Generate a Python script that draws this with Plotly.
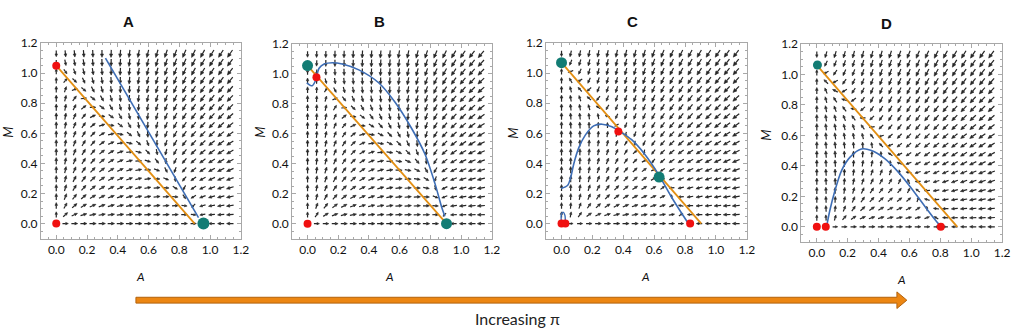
import numpy as np
import plotly.graph_objects as go

# ---------------- data ----------------
panel_titles = ["A", "B", "C", "D"]

# Panel A
a_orange_x = [0.0, 0.90]
a_orange_y = [1.05, 0.0]
a_blue_x = [0.32, 0.925]
a_blue_y = [1.10, 0.04]
a_red_x = [0.0, 0.0]
a_red_y = [0.0, 1.05]
a_teal_x = [0.957]
a_teal_y = [0.0]

# Panel B
b_orange_x = [0.0, 0.905]
b_orange_y = [1.055, 0.0]
b_blue_x = [-0.005, 0.03, 0.05, 0.075, 0.108, 0.162, 0.226, 0.334, 0.463, 0.57, 0.678, 0.765, 0.83, 0.872, 0.894]
b_blue_y = [0.94, 0.92, 0.95, 1.037, 1.065, 1.074, 1.065, 1.026, 0.94, 0.81, 0.635, 0.463, 0.267, 0.115, 0.05]
b_red_x = [0.0, 0.058]
b_red_y = [0.0, 0.977]
b_teal_x = [0.0, 0.905]
b_teal_y = [1.055, 0.0]

# Panel C
c_orange_x = [0.0, 0.905]
c_orange_y = [1.07, 0.0]
c_blue_x = [-0.003, 0.04, 0.06, 0.08, 0.112, 0.155, 0.208, 0.262, 0.326, 0.38, 0.454, 0.54, 0.626, 0.71, 0.776, 0.818]
c_blue_y = [0.233, 0.255, 0.31, 0.40, 0.505, 0.59, 0.65, 0.661, 0.644, 0.612, 0.558, 0.46, 0.331, 0.18, 0.072, 0.006]
c_hook_x = [0.0, 0.0, 0.012, 0.022, 0.024]
c_hook_y = [0.0, 0.065, 0.075, 0.055, 0.0]
c_red_x = [0.0, 0.025, 0.368, 0.833]
c_red_y = [0.0, 0.0, 0.612, 0.0]
c_teal_x = [0.0, 0.632]
c_teal_y = [1.07, 0.309]

# Panel D
d_orange_x = [0.0, 0.91]
d_orange_y = [1.06, 0.0]
d_blue_x = [0.064, 0.085, 0.118, 0.161, 0.214, 0.289, 0.354, 0.44, 0.525, 0.611, 0.697, 0.761, 0.80]
d_blue_y = [0.005, 0.11, 0.24, 0.37, 0.455, 0.51, 0.50, 0.447, 0.362, 0.255, 0.138, 0.053, 0.006]
d_red_x = [0.0, 0.058, 0.803]
d_red_y = [0.0, 0.0, 0.0]
d_teal_x = [0.004]
d_teal_y = [1.061]

tick_vals = [0.0, 0.2, 0.4, 0.6, 0.8, 1.0, 1.2]
tick_text = ["0.0", "0.2", "0.4", "0.6", "0.8", "1.0", "1.2"]
arrow_label = "Increasing π"

# ---------------- layout geometry (pixels) ----------------
W, H = 1021, 328
panel_px = [  # left, right, top, bottom of plot frames
    (41.2, 242.7, 36.0, 236.4),
    (294.5, 495.7, 36.7, 236.4),
    (550.4, 752.7, 36.0, 236.4),
    (807.7, 1010.0, 36.7, 239.9),
]
title_px = [(130, 14), (383, 14), (637, 14), (894, 16)]
mlabel_px = [(8, 127), (262, 127), (517, 128), (772, 130)]
alabel_px = [(142, 275), (393, 275), (651, 275), (909, 278)]

panels = [
    dict(ox=a_orange_x, oy=a_orange_y, bx=a_blue_x, by=a_blue_y, rx=a_red_x, ry=a_red_y,
         tx=a_teal_x, ty=a_teal_y, tsize=12),
    dict(ox=b_orange_x, oy=b_orange_y, bx=b_blue_x, by=b_blue_y, rx=b_red_x, ry=b_red_y,
         tx=b_teal_x, ty=b_teal_y, tsize=11),
    dict(ox=c_orange_x, oy=c_orange_y, bx=c_blue_x, by=c_blue_y, rx=c_red_x, ry=c_red_y,
         tx=c_teal_x, ty=c_teal_y, tsize=11),
    dict(ox=d_orange_x, oy=d_orange_y, bx=d_blue_x, by=d_blue_y, rx=d_red_x, ry=d_red_y,
         tx=d_teal_x, ty=d_teal_y, tsize=9),
]


def extrap_interp(x, xs, ys):
    xs = np.asarray(xs, float)
    ys = np.asarray(ys, float)
    out = np.interp(x, xs, ys)
    sl = (ys[1] - ys[0]) / (xs[1] - xs[0])
    sr = (ys[-1] - ys[-2]) / (xs[-1] - xs[-2])
    out = np.where(x < xs[0], ys[0] + sl * (x - xs[0]), out)
    out = np.where(x > xs[-1], ys[-1] + sr * (x - xs[-1]), out)
    return out


ORANGE = "#e38f12"
BLUE = "#3d6db5"
RED = "#f01010"
TEAL = "#127c74"
ARROW = "#262626"
FRAME = "#a8a8a8"

fig = go.Figure()
grid = np.linspace(0.0, 1.13, 20)
GA, GM = np.meshgrid(grid, grid)

for i, p in enumerate(panels):
    xa = "x" if i == 0 else f"x{i+1}"
    ya = "y" if i == 0 else f"y{i+1}"
    # vector field built from the nullclines read above
    h = extrap_interp(GA, p["bx"], p["by"])
    o = extrap_interp(GA, p["ox"], p["oy"])
    dA = 0.65 * GA * (h - GM)
    dM = GM * (o - GM)
    mag = np.hypot(dA, dM)
    mmax = mag.max()
    sx, sy, hx, hy = [], [], [], []
    Lmax = 0.058
    for a, m, u, v, mg in zip(GA.ravel(), GM.ravel(), dA.ravel(), dM.ravel(), mag.ravel()):
        if mg < 1e-9:
            continue
        ux, uy = u / mg, v / mg
        L = Lmax * (mg / mmax) ** 0.12
        L = min(max(L, 0.03), Lmax)
        hl = 0.45 * L
        hw = 0.2 * L
        x0, y0 = a - ux * L / 2, m - uy * L / 2
        x1, y1 = a + ux * L / 2, m + uy * L / 2
        bx_, by_ = x1 - ux * hl, y1 - uy * hl
        sx += [x0, bx_, None]
        sy += [y0, by_, None]
        nx, ny = -uy, ux
        hx += [x1, bx_ + nx * hw, bx_ - nx * hw, x1, None]
        hy += [y1, by_ + ny * hw, by_ - ny * hw, y1, None]
    fig.add_trace(go.Scatter(x=sx, y=sy, mode="lines", line=dict(color=ARROW, width=1.2),
                             xaxis=xa, yaxis=ya, hoverinfo="skip"))
    fig.add_trace(go.Scatter(x=hx, y=hy, mode="lines", fill="toself", fillcolor=ARROW,
                             line=dict(color=ARROW, width=0.6), xaxis=xa, yaxis=ya, hoverinfo="skip"))
    # nullclines
    fig.add_trace(go.Scatter(x=p["ox"], y=p["oy"], mode="lines", line=dict(color=ORANGE, width=1.8),
                             xaxis=xa, yaxis=ya))
    fig.add_trace(go.Scatter(x=p["bx"], y=p["by"], mode="lines",
                             line=dict(color=BLUE, width=1.6, shape="spline", smoothing=0.8),
                             xaxis=xa, yaxis=ya))
    if i == 2:
        fig.add_trace(go.Scatter(x=c_hook_x, y=c_hook_y, mode="lines",
                                 line=dict(color=BLUE, width=1.4, shape="spline"), xaxis=xa, yaxis=ya))
    # equilibria
    fig.add_trace(go.Scatter(x=p["rx"], y=p["ry"], mode="markers",
                             marker=dict(color=RED, size=8), xaxis=xa, yaxis=ya, cliponaxis=False))
    fig.add_trace(go.Scatter(x=p["tx"], y=p["ty"], mode="markers",
                             marker=dict(color=TEAL, size=p["tsize"]), xaxis=xa, yaxis=ya, cliponaxis=False))

layout = dict(width=W, height=H, margin=dict(l=0, r=0, t=0, b=0), showlegend=False,
              paper_bgcolor="white", plot_bgcolor="white")
annotations = []
for i, (l, r, t, b) in enumerate(panel_px):
    sfx = "" if i == 0 else str(i + 1)
    common = dict(range=[-0.1, 1.2], tickvals=tick_vals, ticktext=tick_text, ticks="inside",
                  ticklen=4, tickcolor=FRAME, showline=True, linecolor=FRAME, linewidth=1,
                  mirror="ticks", showgrid=False, zeroline=False,
                  tickfont=dict(family="Lato", size=12, color="#111"),
                  minor=dict(ticks="inside", ticklen=2, dtick=0.05, tickcolor=FRAME, showgrid=False))
    layout["xaxis" + sfx] = dict(domain=[l / W, r / W], anchor="y" + sfx, **common)
    layout["yaxis" + sfx] = dict(domain=[1 - b / H, 1 - t / H], anchor="x" + sfx, **common)
    tx, ty = title_px[i]
    annotations.append(dict(x=tx / W, y=1 - ty / H, xref="paper", yref="paper", text="<b>%s</b>" % panel_titles[i],
                            showarrow=False, font=dict(family="Liberation Sans", size=15, color="#111"),
                            xanchor="center", yanchor="middle"))
    mx, my = mlabel_px[i]
    annotations.append(dict(x=mx / W, y=1 - my / H, xref="paper", yref="paper", text="<i>M</i>",
                            showarrow=False, textangle=-90, font=dict(family="Lato", size=13, color="#111"),
                            xanchor="center", yanchor="middle"))
    ax_, ay_ = alabel_px[i]
    annotations.append(dict(x=ax_ / W, y=1 - ay_ / H, xref="paper", yref="paper", text="<i>A</i>",
                            showarrow=False, font=dict(family="Lato", size=12, color="#111"),
                            xanchor="center", yanchor="middle"))

annotations.append(dict(x=522 / W, y=1 - 318 / H, xref="paper", yref="paper", text=arrow_label,
                        showarrow=False, font=dict(family="Lato", size=16, color="#222"),
                        xanchor="center", yanchor="middle"))
layout["annotations"] = annotations

# big orange arrow at the bottom
pts = [(137, 296.5), (904, 296.5), (904, 291), (914, 299.5), (904, 308), (904, 302.5), (137, 302.5)]
path = "M " + " L ".join("%.5f,%.5f" % (x / W, 1 - y / H) for x, y in pts) + " Z"
layout["shapes"] = [dict(type="path", xref="paper", yref="paper", path=path,
                         fillcolor="#ec8612", line=dict(color="#b3620c", width=1))]

fig.update_layout(**layout)
fig.write_html("out.html", config={"displayModeBar": False},
               post_script="document.body.style.margin='0px';")
